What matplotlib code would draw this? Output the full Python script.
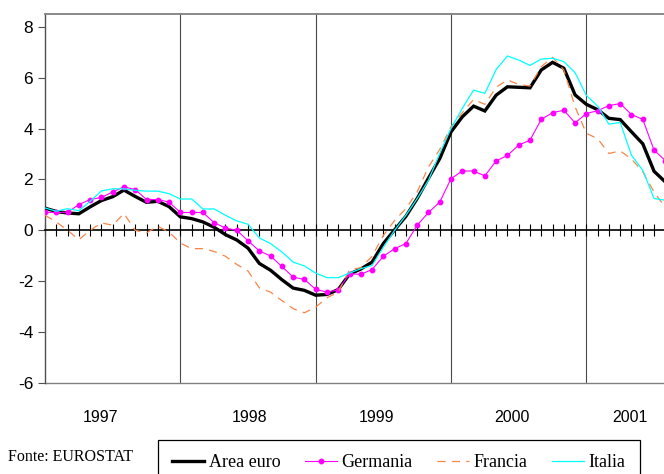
import matplotlib
matplotlib.use("Agg")
import matplotlib.pyplot as plt
import matplotlib.transforms as mtransforms
from matplotlib import font_manager
import numpy as np

# ---- data (monthly, Jan 1997 -> Aug 2001) ----
area_euro = [0.87, 0.74, 0.68, 0.65, 0.92, 1.17, 1.32, 1.58, 1.33, 1.10, 1.14, 0.93,
             0.53, 0.46, 0.33, 0.12, -0.17, -0.38, -0.70, -1.30, -1.57, -1.94, -2.27, -2.36,
             -2.55, -2.52, -2.33, -1.72, -1.52, -1.25, -0.52, 0.02, 0.55, 1.25, 2.05, 2.82,
             3.87, 4.46, 4.88, 4.69, 5.31, 5.64, 5.62, 5.60, 6.30, 6.60, 6.37, 5.32,
             4.95, 4.74, 4.40, 4.35, 3.87, 3.40, 2.32, 1.90]
germania = [0.71, 0.70, 0.71, 1.01, 1.21, 1.29, 1.51, 1.71, 1.60, 1.21, 1.21, 1.11,
            0.70, 0.70, 0.70, 0.30, 0.09, 0.00, -0.41, -0.81, -1.01, -1.42, -1.84, -1.93,
            -2.32, -2.43, -2.34, -1.71, -1.73, -1.54, -1.02, -0.72, -0.52, 0.20, 0.70, 1.11,
            2.03, 2.33, 2.33, 2.14, 2.73, 2.94, 3.35, 3.54, 4.36, 4.62, 4.72, 4.22,
            4.59, 4.70, 4.90, 4.98, 4.55, 4.36, 3.15, 2.74]
francia = [0.59, 0.33, 0.00, -0.37, 0.00, 0.29, 0.20, 0.66, 0.00, -0.10, 0.16, -0.07,
           -0.50, -0.72, -0.72, -0.83, -1.02, -1.34, -1.60, -2.26, -2.43, -2.76, -3.08, -3.24,
           -3.02, -2.65, -2.43, -1.55, -1.47, -1.02, -0.20, 0.39, 0.85, 1.51, 2.49, 3.18,
           4.07, 4.62, 5.14, 4.95, 5.62, 5.91, 5.73, 5.67, 6.43, 6.80, 6.30, 4.85,
           3.81, 3.60, 3.02, 3.12, 2.80, 2.30, 1.50, 0.90]
italia = [0.88, 0.75, 0.85, 0.77, 1.14, 1.55, 1.63, 1.63, 1.57, 1.54, 1.54, 1.44,
          1.23, 1.23, 0.84, 0.84, 0.59, 0.37, 0.24, -0.30, -0.52, -0.85, -1.25, -1.40,
          -1.68, -1.86, -1.86, -1.68, -1.51, -1.38, -0.66, 0.00, 0.59, 1.25, 1.97, 3.02,
          4.00, 4.79, 5.51, 5.38, 6.32, 6.85, 6.69, 6.48, 6.73, 6.76, 6.63, 6.19,
          5.30, 4.88, 4.17, 4.24, 2.95, 2.36, 1.25, 1.18]

series_names = ["Area euro", "Germania", "Francia", "Italia"]
year_labels = ["1997", "1998", "1999", "2000", "2001"]
year_label_pos = [4.94, 18.1, 29.4, 41.4, 51.9]   # month index where label sits
year_boundaries = [12, 24, 36, 48]
y_ticks = [-6, -4, -2, 0, 2, 4, 6, 8]
source_text = "Fonte: EUROSTAT"

names = {f.name for f in font_manager.fontManager.ttflist}
narrow = "Liberation Sans Narrow" in names

W, H = 664, 474
fig = plt.figure(figsize=(W / 100, H / 100), dpi=100)
ax = fig.add_axes([45 / W, 1 - 383 / H, 1 - 45 / W + 0.002, (383 - 14) / H])

x = np.arange(len(area_euro))

ax.plot(x, area_euro, color="black", lw=2.4, label=series_names[0], zorder=3,
        solid_joinstyle="miter")
ax.plot(x, germania, color="#FF00FF", lw=0.8, marker="o", ms=3.2,
        label=series_names[1], zorder=4)
ax.plot(x, francia, color="#F8864A", lw=0.9, linestyle=(0, (6.5, 5)),
        label=series_names[2], zorder=5)
ax.plot(x, italia, color="#00FFFF", lw=0.9, label=series_names[3], zorder=6)

ax.set_xlim(0, 54.9)
ax.set_ylim(-6, 8.5)

for b in year_boundaries:
    ax.axvline(b, color="#4a4a4a", lw=0.8, zorder=1)

# x axis at y = 0 with month ticks crossing it
ax.spines["bottom"].set_position(("data", 0))
ax.spines["bottom"].set_color("black")
ax.spines["bottom"].set_linewidth(1.2)
ax.set_xticks(x)
ax.tick_params(axis="x", direction="inout", length=8, width=0.8, color="black",
               labelbottom=False)
ax.axhline(-6, color="#808080", lw=1.0, clip_on=False, zorder=2)

ax.spines["top"].set_color("#808080")
ax.spines["top"].set_linewidth(1.3)
ax.spines["right"].set_visible(False)
ax.spines["left"].set_color("#505050")
ax.spines["left"].set_linewidth(1.0)

ax.set_yticks(y_ticks)
ax.set_yticklabels([str(v) for v in y_ticks])
ax.tick_params(axis="y", direction="out", length=5, width=0.8, color="#505050",
               pad=3.5, labelsize=12.5)
for t in ax.get_yticklabels():
    t.set_fontfamily("Liberation Sans")

if narrow:
    yfam, ysz = "Liberation Sans Narrow", 14
else:
    yfam, ysz = "Liberation Sans", 11.5
lab_tr = mtransforms.blended_transform_factory(ax.transData, fig.transFigure)
for lab, pos in zip(year_labels, year_label_pos):
    ax.text(pos, 1 - 417 / H, lab, transform=lab_tr,
            ha="center", va="center", fontsize=ysz, family=yfam)

fig.text(8 / W, 1 - 457 / H, source_text, ha="left", va="center",
         fontsize=11.5, family="Liberation Serif")

leg = fig.legend(loc="upper left", bbox_to_anchor=(158 / W, 1 - 440 / H),
                 bbox_transform=fig.transFigure, borderaxespad=0, ncol=4,
                 frameon=True, fancybox=False, edgecolor="black", framealpha=1,
                 handlelength=1.75, handletextpad=0.25, columnspacing=1.38,
                 borderpad=0.8, prop={"family": "Liberation Serif", "size": 13})
leg.get_frame().set_linewidth(0.9)

fig.savefig("out.png", dpi=100)
